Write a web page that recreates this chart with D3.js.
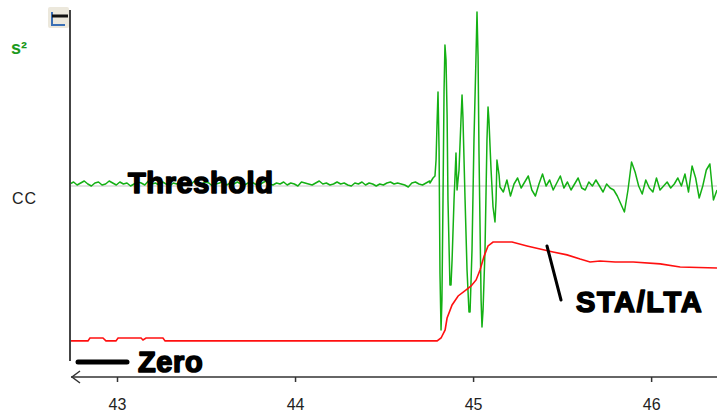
<!DOCTYPE html>
<html>
<head>
<meta charset="utf-8">
<script src="https://cdn.jsdelivr.net/npm/d3@7/dist/d3.min.js"></script>
<style>
  html, body { margin: 0; padding: 0; background: #fff; }
  svg { display: block; font-family: "Liberation Sans", Arial, sans-serif; }
</style>
</head>
<body>
<svg id="chart" width="717" height="414"></svg>
<script>
// ---------------- DATA ----------------
const xTicks = [43, 44, 45, 46];
const xTickLabels = ["43", "44", "45", "46"];

// green trace (counts): pre-event noise sampled every 0.02 s from 42.736 s
const preStart = 42.736;
const sampleStep = 0.02;
const preNoise = [2,4,1,3,5,2,0,3,4,1, 2,5,3,1,4,2,3,0,2,4, 3,1,5,2,3,1,4,2,0,3,
  2,4,1,3,2,5,1,2,4,3, 0,2,3,5,1,3,2,4,2,1, 3,4,2,0,3,5,2,1,3,2,
  4,1,3,2,0,4,3,2,1,3, 5,2,3,1,2,4,2,3,1,0, 3,2,4,1,3,2,0,2,1,3,
  4,2,3,2,1,-1,3,4,2,1, 3,5];

// event (P / S arrivals) — times and amplitudes
const eventTimes = [44.758,44.775,44.786,44.792,44.797,44.803,44.809,44.814,44.820,44.825,
  44.831,44.837,44.842,44.848,44.854,44.859,44.870,44.876,44.882,44.893,
  44.904,44.910,44.921,44.932,44.938,44.943,44.955,44.966,44.977,44.983,
  44.994,45.005,45.016,45.022,45.028,45.033,45.045,45.050,45.056,45.067,
  45.078,45.084,45.089,45.101,45.112,45.123,45.129,45.134,45.146,45.151];
const eventValues = [3,8,10,26,59,94,36,-87,-144,-114,
  -14,96,141,126,71,-14,-99,-99,-74,-14,
  33,-4,16,66,91,69,-14,-84,-126,-126,
  -64,46,126,174,129,36,-114,-141,-124,-64,
  46,79,66,16,-21,-36,-14,26,11,-1];

// coda, sampled every 0.02 s from 45.17 s
const codaStart = 45.17;
const codaValues = [-6,6,-10,2,8,-2,4,10,-4,-10, 2,12,0,6,-4,3,10,-2,4,-4,
  2,8,-2,-4,4,0,6,0,-6,2, -2,-4,-10,-18,-26,-4,24,14,0,-8,
  6,-2,-6,8,-4,0,4,-2,2,8, 0,12,-6,20,8,-12,0,16,22,-14, -4];

// red STA/LTA ratio
const ratioTimes = [42.736,42.837,42.848,42.921,42.938,42.994,43.006,43.135,43.146,43.163,
  43.258,43.270,44.798,44.820,44.843,44.854,44.882,44.916,44.961,44.989,
  45.017,45.039,45.062,45.084,45.112,45.219,45.303,45.376,45.449,45.528,
  45.601,45.657,45.713,45.798,45.899,46.051,46.163,46.370];
const ratioValues = [0.95,0.95,1.07,1.07,0.95,0.95,1.07,1.07,0.99,1.07,
  1.07,0.95,0.95,1.07,1.40,1.89,2.43,2.80,3.05,3.21,
  3.46,3.87,4.44,4.86,5.02,5.02,4.86,4.73,4.61,4.49,
  4.32,4.20,4.24,4.20,4.20,4.12,3.99,3.95];

// ---------------- SCALES ----------------
const svg = d3.select("#chart");
const x = d3.scaleLinear().domain([42.736, 46.37]).range([70, 717]);
const yAmp = d3.scaleLinear().domain([-175, 175]).range([361, 11]);
const yRatio = d3.scaleLinear().domain([0, 10]).range([364, 121]);

const green = [];
preNoise.forEach((v, i) => green.push([preStart + i * sampleStep, v]));
eventTimes.forEach((t, i) => green.push([t, eventValues[i]]));
codaValues.forEach((v, i) => green.push([codaStart + i * sampleStep, v]));
const red = ratioTimes.map((t, i) => [t, ratioValues[i]]);

svg.append("defs").append("clipPath").attr("id", "plot")
  .append("rect").attr("x", 71).attr("y", 0).attr("width", 646).attr("height", 370);

// grey zero line
svg.append("line")
  .attr("x1", 71).attr("x2", 717)
  .attr("y1", yAmp(0)).attr("y2", yAmp(0))
  .attr("stroke", "#c4c4c4").attr("stroke-width", 1.2);

const g = svg.append("g").attr("clip-path", "url(#plot)");
g.append("path").datum(green)
  .attr("d", d3.line().x(d => x(d[0])).y(d => yAmp(d[1])))
  .attr("fill", "none").attr("stroke", "#14b014").attr("stroke-width", 1.5)
  .attr("stroke-linejoin", "round");

g.append("path").datum(red)
  .attr("d", d3.line().x(d => x(d[0])).y(d => yRatio(d[1])))
  .attr("fill", "none").attr("stroke", "#ff1010").attr("stroke-width", 1.6);

// ---------------- AXES ----------------
svg.append("line").attr("x1", 70).attr("x2", 70).attr("y1", 10).attr("y2", 361)
  .attr("stroke", "#444").attr("stroke-width", 2);

const xAxis = d3.axisBottom(x).tickValues(xTicks)
  .tickFormat((d, i) => xTickLabels[i]).tickSize(5).tickPadding(17);
const ax = svg.append("g").attr("transform", "translate(0,377)").call(xAxis);
ax.select(".domain").remove();
ax.selectAll(".tick line").attr("stroke", "#333").attr("stroke-width", 1.5);
ax.selectAll(".tick text").attr("fill", "#222")
  .style("font-size", "16px").style("font-family", "'Liberation Sans', Arial, sans-serif");
svg.append("line").attr("x1", 71).attr("x2", 717).attr("y1", 377).attr("y2", 377)
  .attr("stroke", "#333").attr("stroke-width", 1.6);
svg.append("path").attr("d", "M80,371 L72,377 L80,383")
  .attr("fill", "none").attr("stroke", "#333").attr("stroke-width", 1.5);

// top icon
svg.append("rect").attr("x", 48).attr("y", 7).attr("width", 21).attr("height", 21)
  .attr("fill", "#ece8dc").attr("rx", 2);
svg.append("path").attr("d", "M52,12 L52,25 L65,25")
  .attr("fill", "none").attr("stroke", "#3a6fb5").attr("stroke-width", 2);
svg.append("line").attr("x1", 52).attr("x2", 68).attr("y1", 16).attr("y2", 16)
  .attr("stroke", "#111").attr("stroke-width", 3);

// y labels
svg.append("text").attr("x", 11).attr("y", 54)
  .attr("fill", "#1d9a1d").style("font-size", "18px").style("font-weight", "bold")
  .text("s²");
svg.append("text").attr("x", 12).attr("y", 204)
  .attr("fill", "#222").style("font-size", "16px").style("letter-spacing", "1px").text("CC");

// ---------------- ANNOTATIONS ----------------
function bigLabel(xp, yp, txt, ls) {
  svg.append("text").attr("x", xp).attr("y", yp)
    .attr("fill", "#000").attr("stroke", "#000").attr("stroke-width", 1.6)
    .attr("stroke-linejoin", "round")
    .style("font-size", "29px").style("font-weight", "bold")
    .style("letter-spacing", ls + "px").text(txt);
}
bigLabel(128, 193, "Threshold", 0.6);

svg.append("line").attr("x1", 78).attr("x2", 127).attr("y1", 362).attr("y2", 362)
  .attr("stroke", "#000").attr("stroke-width", 5).attr("stroke-linecap", "round");
bigLabel(138, 372, "Zero", 0.6);

svg.append("line").attr("x1", 547).attr("x2", 561).attr("y1", 246).attr("y2", 300)
  .attr("stroke", "#000").attr("stroke-width", 3).attr("stroke-linecap", "round");
bigLabel(576, 312, "STA/LTA", 1.6);
</script>
</body>
</html>
